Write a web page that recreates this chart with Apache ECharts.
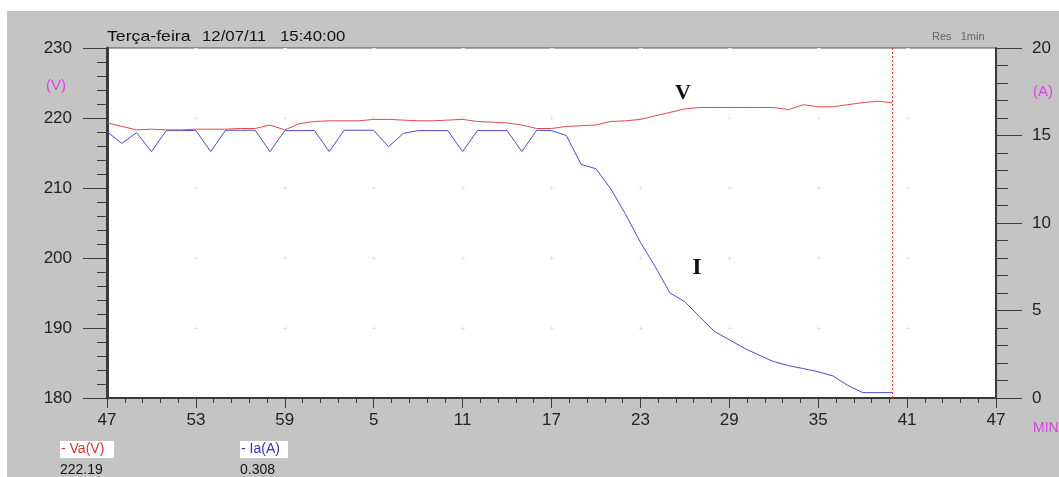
<!DOCTYPE html>
<html><head><meta charset="utf-8">
<script src="https://cdn.jsdelivr.net/npm/echarts@6/dist/echarts.min.js"></script>
<style>html,body{margin:0;padding:0;background:#fff;}#c{position:absolute;left:0;top:0;width:1059px;height:477px;}</style>
</head><body><div id="c"></div>
<script>
// x tick labels (minutes past the hour, one label every 6 minutes)
const xTickLabels = ["47","53","59","5","11","17","23","29","35","41","47"];
// Va (V), one sample per minute starting at 14:47
const voltage = [219.3,218.8,218.3,218.4,218.3,218.3,218.4,218.4,218.4,218.5,
  218.5,219.0,218.3,219.2,219.5,219.6,219.6,219.6,219.8,219.8,
  219.7,219.6,219.6,219.7,219.8,219.5,219.4,219.3,219.0,218.5,
  218.5,218.8,218.9,219.0,219.5,219.6,219.8,220.3,220.8,221.3,
  221.5,221.5,221.5,221.5,221.5,221.5,221.2,221.9,221.6,221.6,
  221.9,222.2,222.4,222.19];
// Ia (A), one sample per minute starting at 14:47
const current = [15.22,14.55,15.16,14.08,15.28,15.28,15.28,14.08,15.3,15.3,
  15.3,14.08,15.28,15.28,15.28,14.08,15.3,15.3,15.3,14.36,
  15.12,15.28,15.28,15.28,14.08,15.28,15.28,15.28,14.08,15.3,
  15.28,15.0,13.35,13.1,11.95,10.5,8.9,7.5,6.0,5.5,
  4.64,3.8,3.33,2.85,2.45,2.08,1.85,1.68,1.5,1.26,
  0.72,0.308,0.308,0.308];
const headerDay = "Terça-feira";
const headerDate = "12/07/11";
const headerTime = "15:40:00";
const resText = "Res   1min";
const cursorMinute = 53;

const FONT = "'Liberation Sans', Arial, sans-serif";
const AX = '#3a3a3a';
const chart = echarts.init(document.getElementById('c'));
const vData = voltage.map((v, i) => [i, v]);
const iData = current.map((v, i) => [i, v]);

chart.setOption({
  animation: false,
  backgroundColor: '#c4c4c4',
  grid: { left: 107, right: 63, top: 48, bottom: 79, show: true, backgroundColor: '#ffffff', borderColor: '#555', borderWidth: 1 },
  xAxis: {
    type: 'value', min: 0, max: 60, interval: 6,
    axisLine: { show: true, lineStyle: { color: AX, width: 2 } },
    axisTick: { show: true, inside: false, length: 10, lineStyle: { color: AX } },
    minorTick: { show: true, splitNumber: 5, length: 5, lineStyle: { color: AX } },
    axisLabel: { formatter: v => xTickLabels[Math.round(v / 6)], margin: 14, fontSize: 17, color: '#222', fontFamily: FONT },
    splitLine: { show: true, lineStyle: { color: '#e6e6e6', type: [4, 66], dashOffset: 2 } }
  },
  yAxis: [{
    type: 'value', min: 180, max: 230, interval: 10, position: 'left',
    axisLine: { show: true, lineStyle: { color: AX, width: 3 } },
    axisTick: { show: true, inside: false, length: 24, lineStyle: { color: AX } },
    minorTick: { show: true, splitNumber: 5, length: 10, lineStyle: { color: AX } },
    axisLabel: { margin: 35, fontSize: 17, color: '#222', fontFamily: FONT },
    splitLine: { show: true, lineStyle: { color: '#e6e6e6', type: [4, 85], dashOffset: 2 } }
  }, {
    type: 'value', min: 0, max: 20, interval: 5, position: 'right',
    axisLine: { show: true, lineStyle: { color: AX, width: 2 } },
    axisTick: { show: true, inside: false, length: 26, lineStyle: { color: AX } },
    minorTick: { show: true, splitNumber: 5, length: 12, lineStyle: { color: AX } },
    axisLabel: { margin: 36, fontSize: 17, color: '#222', fontFamily: FONT },
    splitLine: { show: false }
  }],
  series: [{
    name: 'Ia(A)', type: 'line', yAxisIndex: 1, data: iData, showSymbol: false,
    lineStyle: { color: '#4b4bc6', width: 1 }, itemStyle: { color: '#4b4bc6' }
  }, {
    name: 'Va(V)', type: 'line', yAxisIndex: 0, data: vData, showSymbol: false,
    lineStyle: { color: '#e04a4a', width: 1 }, itemStyle: { color: '#e04a4a' },
    markLine: { silent: true, symbol: 'none', label: { show: false },
      lineStyle: { color: '#f03c3c', type: [2, 2], width: 1, opacity: 1 },
      emphasis: { disabled: true },
      data: [{ xAxis: cursorMinute, lineStyle: { color: '#f03c3c', type: [2, 2], width: 1 } }] }
  }],
  graphic: [
    { type: 'rect', shape: { x: 0, y: 0, width: 1059, height: 11 }, style: { fill: '#fff' } },
    { type: 'rect', shape: { x: 0, y: 0, width: 7, height: 477 }, style: { fill: '#fff' } },
    { type: 'text', x: 107, y: 29, scaleX: 1.18, style: { text: headerDay, fill: '#111', font: '15px ' + FONT } },
    { type: 'text', x: 202, y: 29, scaleX: 1.12, style: { text: headerDate, fill: '#111', font: '15px ' + FONT } },
    { type: 'text', x: 280, y: 29, scaleX: 1.12, style: { text: headerTime, fill: '#111', font: '15px ' + FONT } },
    { type: 'text', x: 932, y: 31, style: { text: resText, fill: '#666', font: '11px ' + FONT } },
    { type: 'text', x: 46, y: 78, style: { text: '(V)', fill: '#e040e0', font: '15px ' + FONT } },
    { type: 'text', x: 1033, y: 84, style: { text: '(A)', fill: '#e040e0', font: '15px ' + FONT } },
    { type: 'text', x: 1033, y: 421, style: { text: 'MIN', fill: '#e040e0', font: '14px ' + FONT } },
    { type: 'text', x: 683, y: 93, style: { text: 'V', fill: '#111', font: 'bold 22px "Liberation Serif", "Times New Roman", serif', align: 'center', verticalAlign: 'middle' } },
    { type: 'text', x: 697, y: 268, style: { text: 'I', fill: '#111', font: 'bold 24px "Liberation Serif", "Times New Roman", serif', align: 'center', verticalAlign: 'middle' } },
    { type: 'rect', shape: { x: 60, y: 441, width: 54, height: 17 }, style: { fill: '#fff' } },
    { type: 'text', x: 61, y: 442, style: { text: '- Va(V)', fill: '#e03030', font: '14px ' + FONT } },
    { type: 'text', x: 60, y: 463, style: { text: voltage[voltage.length - 1].toFixed(2), fill: '#111', font: '14px ' + FONT } },
    { type: 'rect', shape: { x: 240, y: 441, width: 48, height: 17 }, style: { fill: '#fff' } },
    { type: 'text', x: 241, y: 442, style: { text: '- Ia(A)', fill: '#3030c0', font: '14px ' + FONT } },
    { type: 'text', x: 240, y: 463, style: { text: current[current.length - 1].toFixed(3), fill: '#111', font: '14px ' + FONT } }
  ]
});
</script></body></html>
